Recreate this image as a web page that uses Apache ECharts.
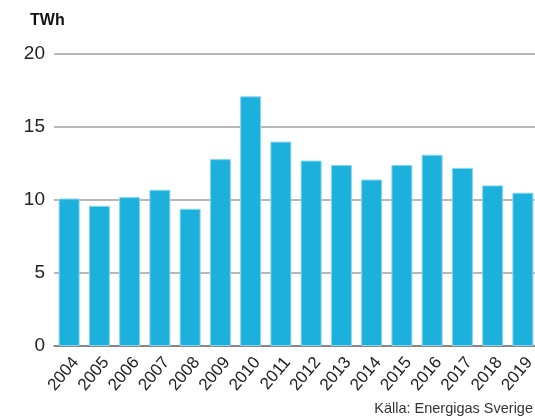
<!DOCTYPE html>
<html>
<head>
<meta charset="utf-8">
<script src="https://cdn.jsdelivr.net/npm/echarts@6/dist/echarts.min.js"></script>
<style>
  html, body { margin: 0; padding: 0; background: #fff; }
  #chart { width: 535px; height: 420px; }
</style>
</head>
<body>
<div id="chart"></div>
<script>
const years = ["2004", "2005", "2006", "2007", "2008", "2009", "2010", "2011",
  "2012", "2013", "2014", "2015", "2016", "2017", "2018", "2019"];
const twh = [10.1, 9.6, 10.2, 10.7, 9.4, 12.8, 17.1, 14.0,
  12.7, 12.4, 11.4, 12.4, 13.1, 12.2, 11.0, 10.5];
const yTicks = { min: 0, max: 20, interval: 5 };

const chart = echarts.init(document.getElementById("chart"));

chart.setOption({
  animation: false,
  textStyle: { fontFamily: "Liberation Sans, Arial, sans-serif" },
  title: [
    {
      text: "TWh",
      left: 25,
      top: 8,
      textStyle: { fontSize: 16, fontWeight: "bold", color: "#111" },
    },
    {
      text: "Källa: Energigas Sverige",
      right: -3,
      bottom: -1,
      textStyle: { fontSize: 14.5, fontWeight: "normal", color: "#333" },
    },
  ],
  grid: { left: 54, right: -3, top: 54, bottom: 74, outerBoundsMode: "none" },
  xAxis: {
    type: "category",
    data: years,
    axisTick: { show: false },
    axisLine: { lineStyle: { color: "#777", width: 1.5 } },
    axisLabel: {
      rotate: 50,
      fontSize: 17,
      color: "#222",
      margin: 8,
      interval: 0,
      verticalAlign: "top",
    },
  },
  yAxis: {
    type: "value",
    min: yTicks.min,
    max: yTicks.max,
    interval: yTicks.interval,
    axisLine: { show: false },
    axisTick: { show: false },
    axisLabel: { fontSize: 19, color: "#222", margin: 9 },
    splitLine: { lineStyle: { color: "#a0a0a0", width: 1.5 } },
  },
  series: [
    {
      type: "bar",
      data: twh,
      barWidth: 21,
      itemStyle: {
        color: "#1cb0dc",
        borderColor: "#8ad6ef",
        borderWidth: 1,
      },
    },
  ],
});
</script>
</body>
</html>
